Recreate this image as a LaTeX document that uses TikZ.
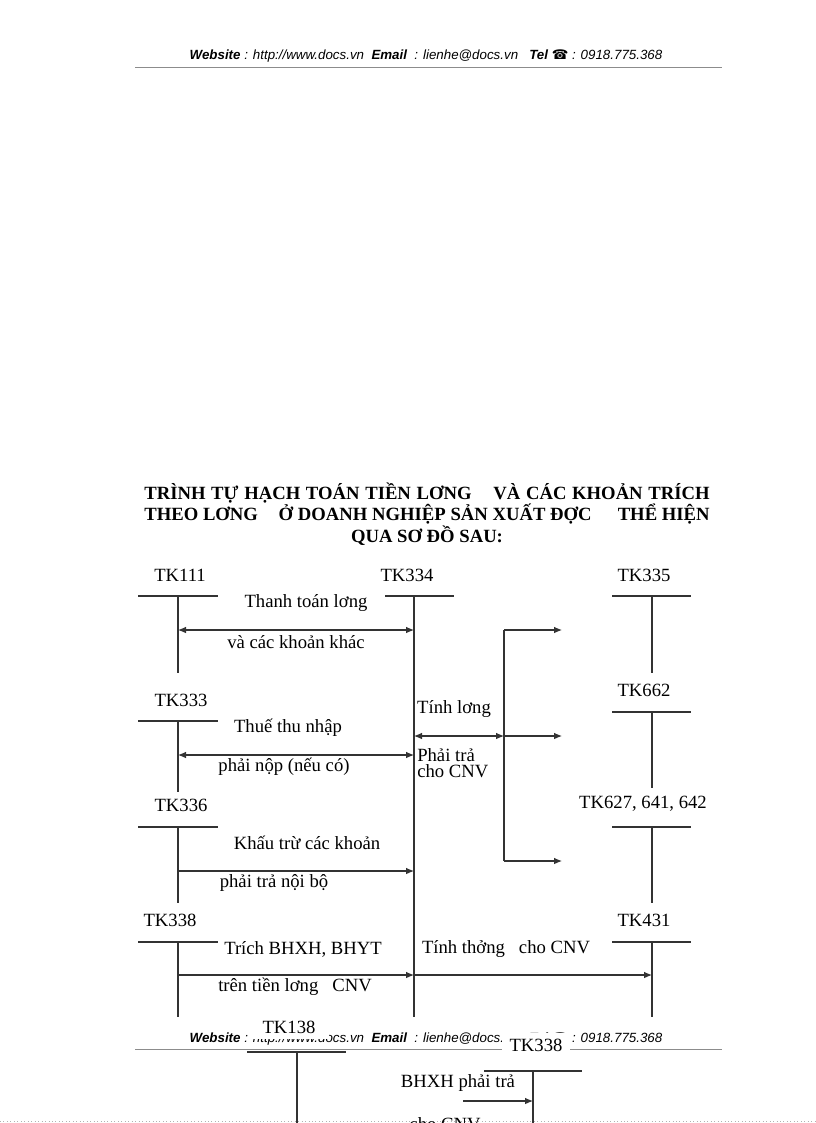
\documentclass[tikz,border=0pt]{standalone}
\usepackage{fontspec}
\setmainfont{Liberation Serif}
\newfontfamily\hdrfont{Liberation Sans}
\newfontfamily\symfont{DejaVu Sans}
\usetikzlibrary{arrows.meta}

\newcommand\siteline{{\bfseries Website} : http://www.docs.vn\ \ {\bfseries Email}\ \ : lienhe@docs.vn\ \ \ {\bfseries Tel} {\symfont\upshape ☎} : 0918.775.368}

\tikzset{
  hdr/.style={font=\hdrfont\itshape\fontsize{10}{11}\selectfont, inner sep=0pt},
  rule/.style={line width=0.6pt, black!45},
  title/.style={font=\bfseries\fontsize{14}{14.25}\selectfont, align=center, inner sep=0pt},
  acct/.style={font=\fontsize{14}{16}\selectfont, inner sep=0pt},
  note/.style={font=\fontsize{14}{16}\selectfont, inner sep=0pt},
  tline/.style={line width=0.8pt, black!80},
  flow/.style={tline, -{Latex[length=6pt,width=5pt]}},
  both/.style={tline, {Latex[length=6pt,width=5pt]}-{Latex[length=6pt,width=5pt]}}
}

\begin{document}
\begin{tikzpicture}[x=0.75pt,y=-0.75pt]
\useasboundingbox (0,0) rectangle (816,1123);

% header
\node[hdr] (site) at (426,56) {\siteline};
\draw[rule] (135,67) -- (722,67);

% title
\node[title] (head) at (427,514) {%
\makebox[424pt][s]{TRÌNH TỰ HẠCH TOÁN TIỀN LƠNG\hspace{12pt} VÀ CÁC KHOẢN TRÍCH}\\
\makebox[424pt][s]{THEO LƠNG\hspace{12pt} Ở DOANH NGHIỆP SẢN XUẤT ĐỢC\hspace{16pt} THỂ HIỆN}\\
QUA SƠ ĐỒ SAU:};

% accounts, top row
\node[acct] (tk111) at (180,575) {TK111};
\coordinate (a111) at (178,596);
\draw[tline] (138,596) -- (218,596);
\draw[tline] (a111) -- (178,673);

\node[acct] (tk334) at (407,575) {TK334};
\coordinate (a334) at (414,596);
\draw[tline] (385,596) -- (454,596);
\draw[tline] (a334) -- (414,1017);

\node[acct] (tk335) at (644,575) {TK335};
\coordinate (a335) at (652,596);
\draw[tline] (612,596) -- (691,596);
\draw[tline] (a335) -- (652,673);

% accounts, left column
\node[acct] (tk333) at (181,700) {TK333};
\coordinate (a333) at (178,721);
\draw[tline] (138,721) -- (218,721);
\draw[tline] (a333) -- (178,792);

\node[acct] (tk336) at (181,805) {TK336};
\coordinate (a336) at (178,827);
\draw[tline] (138,827) -- (218,827);
\draw[tline] (a336) -- (178,903);

\node[acct] (tk338) at (170,920) {TK338};
\coordinate (a338) at (178,942);
\draw[tline] (138,942) -- (218,942);
\draw[tline] (a338) -- (178,1017);

% accounts, right column
\node[acct] (tk662) at (644,690) {TK662};
\coordinate (a662) at (652,712);
\draw[tline] (612,712) -- (691,712);
\draw[tline] (a662) -- (652,788);

\node[acct] (tk627) at (643,804) {TK627, 641, 642};
\coordinate (a627) at (652,827);
\draw[tline] (612,827) -- (691,827);
\draw[tline] (a627) -- (652,903);

\node[acct] (tk431) at (644,920) {TK431};
\coordinate (a431) at (652,942);
\draw[tline] (612,942) -- (691,942);
\draw[tline] (a431) -- (652,1017);

% flows into and out of TK334
\coordinate (p1) at (178,630);
\coordinate (q1) at (414,630);
\draw[both] (p1) -- (q1);
\node[note] (l1a) at (306,603) {Thanh toán lơng};
\node[note] (l1b) at (296,642) {và các khoản khác};

\coordinate (p2) at (178,755);
\coordinate (q2) at (414,755);
\draw[both] (p2) -- (q2);
\node[note] (l2a) at (288,728) {Thuế thu nhập};
\node[note] (l2b) at (284,767) {phải nộp (nếu có)};

\coordinate (p3) at (178,871);
\coordinate (q3) at (414,871);
\draw[flow] (p3) -- (q3);
\node[note] (l3a) at (307,843) {Khấu trừ các khoản};
\node[note] (l3b) at (274,883) {phải trả nội bộ};

\coordinate (p4) at (178,975);
\coordinate (q4) at (414,975);
\coordinate (r4) at (652,975);
\draw[flow] (p4) -- (q4);
\draw[flow] (q4) -- (r4);
\node[note] (l4a) at (303,949) {Trích BHXH, BHYT};
\node[note] (l4b) at (295,987) {trên tiền lơng\ \ \ CNV};
\node[note] (l4c) at (506,949) {Tính thởng\ \ \ cho CNV};

% salary split
\coordinate (b0) at (414,736);
\coordinate (b1) at (504,630);
\coordinate (b2) at (504,736);
\coordinate (b3) at (504,861);
\coordinate (e1) at (562,630);
\coordinate (e2) at (562,736);
\coordinate (e3) at (562,861);
\draw[both] (b0) -- (b2);
\draw[tline] (b1) -- (b3);
\draw[flow] (b1) -- (e1);
\draw[flow] (b2) -- (e2);
\draw[flow] (b3) -- (e3);
\node[note] (l5a) at (454,709) {Tính lơng};
\node[note, anchor=north west, align=left, font=\fontsize{14}{12}\selectfont] (l5b) at (417,748) {Phải trả\\cho CNV};

% footer
\node[hdr] (foot) at (426,1039) {\siteline};
\draw[rule] (135,1049) -- (722,1049);
\draw[rule, dotted, black!30] (0,1121) -- (816,1121);

% next page
\node[acct, fill=white, inner xsep=10pt, inner ysep=4pt] (tk138) at (289,1027) {TK138};
\coordinate (a138) at (297,1052);
\draw[tline] (247,1052) -- (346,1052);
\draw[tline] (a138) -- (297,1130);

\node[acct, fill=white, inner xsep=6pt, inner ysep=4pt] (tk338b) at (536,1045) {TK338};
\coordinate (a338b) at (533,1071);
\draw[tline] (484,1071) -- (582,1071);
\draw[tline] (a338b) -- (533,1130);

\coordinate (p6) at (463,1101);
\coordinate (q6) at (533,1101);
\draw[flow] (p6) -- (q6);
\node[note] (l6a) at (458,1083) {BHXH phải trả};
\node[note] (l6b) at (445,1124) {cho CNV};

\end{tikzpicture}
\end{document}
